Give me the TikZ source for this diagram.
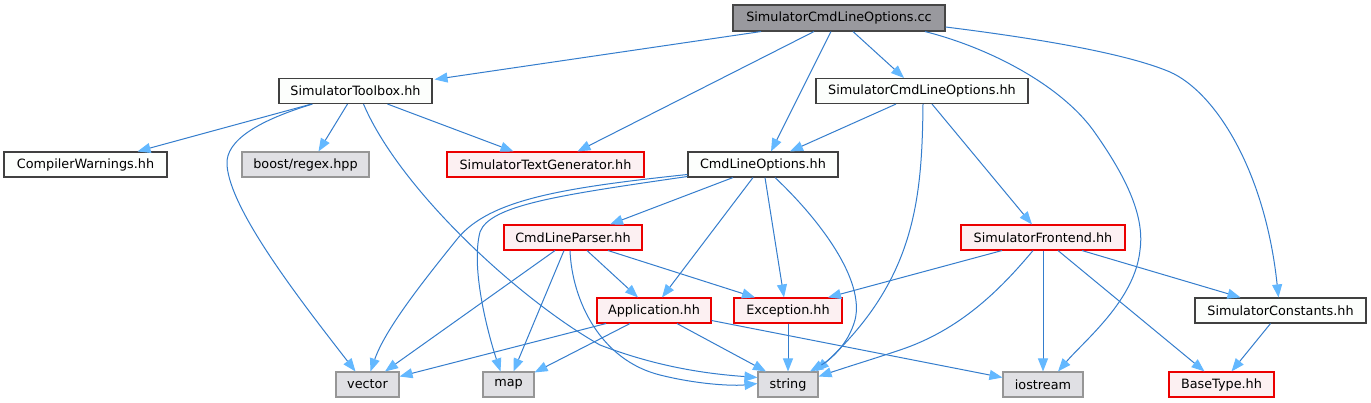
\documentclass[tikz,border=0pt]{standalone}
\usepackage{fontspec}
\setmainfont{DejaVu Sans}
\usetikzlibrary{arrows.meta}
\definecolor{edgec}{RGB}{52,125,205}
\definecolor{tipc}{RGB}{99,184,255}
\definecolor{normdraw}{RGB}{64,64,64}
\definecolor{normfill}{RGB}{252,254,252}
\definecolor{reddraw}{RGB}{235,0,0}
\definecolor{redfill}{RGB}{252,240,242}
\definecolor{sysdraw}{RGB}{150,150,150}
\definecolor{sysfill}{RGB}{224,224,228}
\definecolor{rootdraw}{RGB}{70,70,70}
\definecolor{rootfill}{RGB}{153,153,158}
\begin{document}
\begin{tikzpicture}[x=1pt,y=-1pt,
  box/.style={line width=1.1pt, minimum height=25pt, inner sep=0pt, font=\fontsize{12.8}{15}\selectfont, text=black},
  plain/.style={box, draw=normdraw, fill=normfill},
  redbox/.style={box, draw=reddraw, fill=redfill},
  sysbox/.style={box, draw=sysdraw, fill=sysfill},
  rootbox/.style={box, draw=rootdraw, fill=rootfill},
  e/.style={draw=edgec, line width=1pt, -{Triangle[length=13pt,width=10pt,fill=tipc,color=tipc]}}
]
\useasboundingbox[fill=white] (0,0) rectangle (1371,403);
% nodes
\node[rootbox, minimum width=212pt, minimum height=26pt] (cc) at (839,18) {SimulatorCmdLineOptions.cc};
\node[plain, minimum width=153pt] (tb) at (355.5,91) {SimulatorToolbox.hh};
\node[plain, minimum width=212pt] (schh) at (922,91) {SimulatorCmdLineOptions.hh};
\node[plain, minimum width=163pt] (cw) at (85.5,164.5) {CompilerWarnings.hh};
\node[sysbox, minimum width=127pt] (boost) at (305.5,164.5) {boost/regex.hpp};
\node[redbox, minimum width=197pt] (stg) at (545.5,164.5) {SimulatorTextGenerator.hh};
\node[plain, minimum width=150pt] (clo) at (763,164.5) {CmdLineOptions.hh};
\node[redbox, minimum width=138pt] (clp) at (573,237.5) {CmdLineParser.hh};
\node[redbox, minimum width=164pt] (sf) at (1043,237.5) {SimulatorFrontend.hh};
\node[redbox, minimum width=114pt] (app) at (654,310.5) {Application.hh};
\node[redbox, minimum width=108pt] (exc) at (788,310.5) {Exception.hh};
\node[plain, minimum width=171pt] (sc) at (1280.5,310.5) {SimulatorConstants.hh};
\node[sysbox, minimum width=63pt] (vector) at (367.5,384.5) {vector};
\node[sysbox, minimum width=51pt] (map) at (508.5,384.5) {map};
\node[sysbox, minimum width=60pt] (string) at (788,384.5) {string};
\node[sysbox, minimum width=80pt] (ios) at (1043,384.5) {iostream};
\node[redbox, minimum width=105pt] (bt) at (1221.5,384.5) {BaseType.hh};
% edges from cc
\draw[e] ([xshift=-78pt]cc.south) -- ([xshift=2pt,yshift=-1.5pt]tb.north east);
\draw[e] ([xshift=-25pt]cc.south) -- ([xshift=32pt]stg.north);
\draw[e] ([xshift=-8pt]cc.south) -- ([xshift=8pt]clo.north);
\draw[e] ([xshift=14pt]cc.south) -- ([xshift=-18pt]schh.north);
\draw[e] ([xshift=86pt]cc.south) .. controls (990,48) and (1060,85) .. (1093,130) .. controls (1125,175) and (1145,215) .. (1140,250) .. controls (1135,300) and (1085,340) .. ([xshift=15pt]ios.north);
\draw[e] ([yshift=-9pt]cc.east) .. controls (1050,40) and (1130,55) .. (1170,72) .. controls (1215,92) and (1265,170) .. ([xshift=-2pt]sc.north);
% edges from toolbox
\draw[e] ([xshift=-44pt]tb.south) -- ([xshift=52pt]cw.north);
\draw[e] ([xshift=-8pt]tb.south) -- ([xshift=13pt]boost.north);
\draw[e] ([xshift=32pt]tb.south) -- ([xshift=-32pt]stg.north);
\draw[e] ([xshift=-43pt]tb.south) .. controls (260,120) and (225,140) .. (227,165) .. controls (230,210) and (300,300) .. ([xshift=-12pt]vector.north);
\draw[e] ([xshift=8pt]tb.south) .. controls (400,190) and (520,300) .. (600,345) .. controls (660,368) and (710,374) .. ([yshift=7pt]string.west);
% edges from SimulatorCmdLineOptions.hh
\draw[e] ([xshift=-26pt]schh.south) -- ([xshift=27pt]clo.north);
\draw[e] ([xshift=1pt]schh.south) .. controls (922,200) and (915,280) .. ([xshift=28pt]string.north);
\draw[e] ([xshift=10pt]schh.south) -- ([xshift=-11pt]sf.north);
% edges from CmdLineOptions.hh
\draw[e] ([xshift=-30pt]clo.south) -- ([xshift=37pt]clp.north);
\draw[e] ([yshift=-10pt]clo.west) .. controls (560,188) and (490,200) .. (458,238) .. controls (420,285) and (385,330) .. ([xshift=3pt]vector.north);
\draw[e] ([yshift=-12pt]clo.west) .. controls (560,195) and (490,205) .. (480,232) .. controls (470,270) and (490,340) .. ([xshift=-8pt]map.north);
\draw[e] ([xshift=-10pt]clo.south) -- ([xshift=8pt]app.north);
\draw[e] ([xshift=2pt]clo.south) -- ([xshift=-4pt]exc.north);
\draw[e] ([xshift=12pt]clo.south) .. controls (820,220) and (865,280) .. (855,320) .. controls (848,345) and (830,360) .. ([xshift=22pt]string.north);
% edges from CmdLineParser.hh
\draw[e] ([xshift=-18pt]clp.south) -- ([xshift=17.5pt]vector.north);
\draw[e] ([xshift=-9pt]clp.south) -- ([xshift=5pt]map.north);
\draw[e] ([xshift=-3pt]clp.south) .. controls (572,300) and (600,360) .. (660,375) .. controls (700,385) and (735,386) .. ([yshift=1pt]string.west);
\draw[e] ([xshift=14pt]clp.south) -- ([xshift=-16pt]app.north);
\draw[e] ([xshift=35pt]clp.south) -- ([xshift=-33pt]exc.north);
% edges from Application.hh
\draw[e] ([xshift=-48pt]app.south) -- ([yshift=8pt]vector.east);
\draw[e] ([xshift=-24pt]app.south) -- ([yshift=-1pt]map.north east);
\draw[e] ([xshift=23pt]app.south) -- ([xshift=-22pt]string.north);
\draw[e] ([yshift=-10pt]app.east) -- ([yshift=7pt]ios.west);
% edge from Exception.hh
\draw[e] (exc.south) -- (string.north);
% edges from SimulatorFrontend.hh
\draw[e] ([xshift=-41pt]sf.south) -- ([xshift=40pt]exc.north);
\draw[e] ([xshift=-10pt]sf.south) .. controls (1000,290) and (960,330) .. (900,350) .. controls (870,360) and (850,366) .. ([yshift=8pt]string.east);
\draw[e] (sf.south) -- (ios.north);
\draw[e] ([xshift=15pt]sf.south) -- ([xshift=-17pt]bt.north);
\draw[e] ([xshift=39pt]sf.south) -- ([xshift=-40pt]sc.north);
% edge from SimulatorConstants.hh
\draw[e] ([xshift=-10pt]sc.south) -- ([xshift=10pt]bt.north);
\end{tikzpicture}
\end{document}
